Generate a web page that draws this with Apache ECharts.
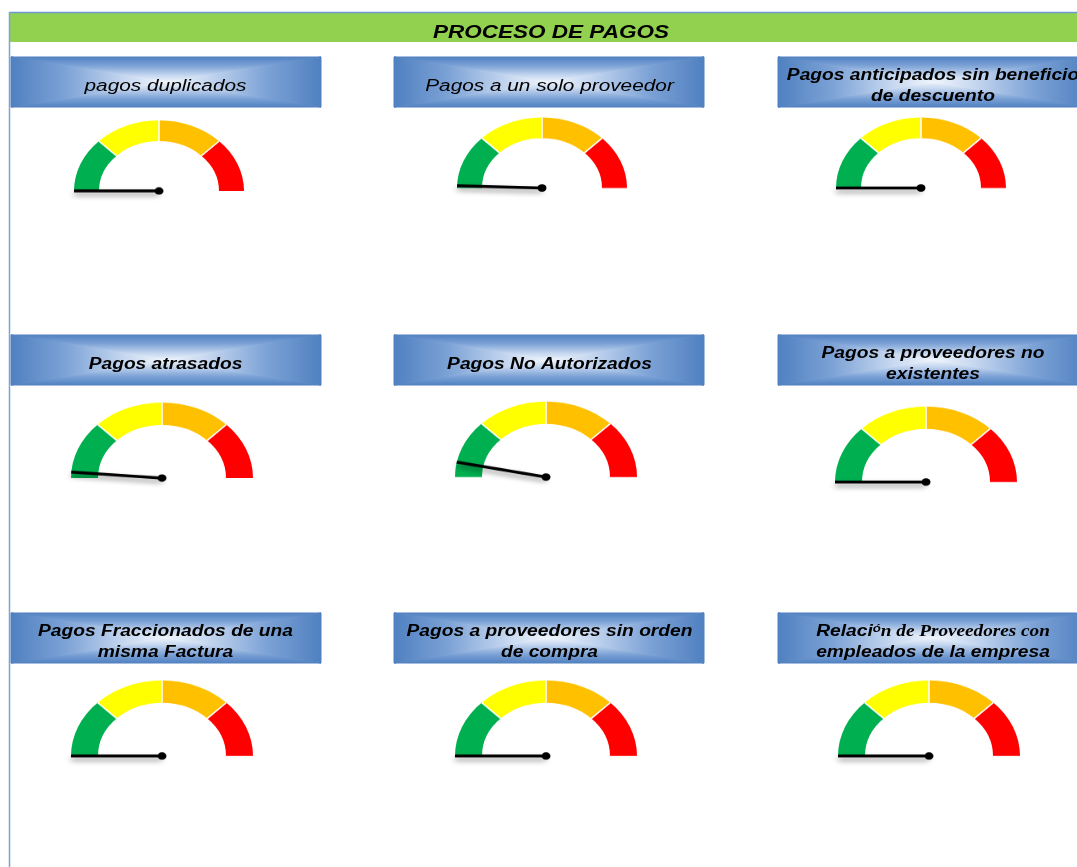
<!DOCTYPE html>
<html>
<head>
<meta charset="utf-8">
<script src="https://cdn.jsdelivr.net/npm/echarts@6/dist/echarts.min.js"></script>
<style>
  html, body { margin: 0; padding: 0; background: #fff; overflow: hidden; }
  #fondo { position: absolute; left: 0; top: 0; width: 1077px; height: 867px; }
  /* gauges are drawn in a taller box and squeezed vertically into flat half-ellipses */
  #medidores { position: absolute; left: 0; top: 0; width: 1077px; height: 1045px;
               transform: scaleY(0.83); transform-origin: 0 0; pointer-events: none; }
</style>
</head>
<body>
<div id="fondo"></div>
<div id="medidores"></div>
<script>
// ---- data ----
const tituloGeneral = 'PROCESO DE PAGOS';
const indicadores = [
  ['pagos duplicados'],
  ['Pagos a un solo proveedor'],
  ['Pagos anticipados sin beneficio', 'de descuento'],
  ['Pagos atrasados'],
  ['Pagos No Autorizados'],
  ['Pagos a proveedores no', 'existentes'],
  ['Pagos Fraccionados de una', 'misma Factura'],
  ['Pagos a proveedores sin orden', 'de compra'],
  ['Relación de Proveedores con', 'empleados de la empresa']
];
const valores = [0, 1, 0, 2.5, 6.3, 0, 0, 0, 0];
const escalaMin = 0;
const escalaMax = 100;
const limitesBandas = [25, 50, 75, 100];

// ---- styling / layout ----
const SY = 0.83;                          // vertical squeeze of the gauge layer
const coloresBandas = ['#00b050', '#ffff00', '#ffc000', '#ff0000'];
const textoNormal = [true, true, false, false, false, false, false, false, false];
const columnasX = [11, 394, 778];
const centrosTexto = [165.5, 549.5, 933];
const filasY = [57, 335, 613];
const cajaW = 310, cajaH = 50;
const medidores = [
  { cx: 159, cy: 191, r: 85, w: 25 }, { cx: 542, cy: 188, r: 85, w: 25 }, { cx: 921, cy: 188, r: 85, w: 25 },
  { cx: 162, cy: 478, r: 91, w: 27 }, { cx: 546, cy: 477, r: 91, w: 27 }, { cx: 926, cy: 482, r: 91, w: 27 },
  { cx: 162, cy: 756, r: 91, w: 27 }, { cx: 546, cy: 756, r: 91, w: 27 }, { cx: 929, cy: 756, r: 91, w: 27 }
];

function grad(x, y, x2, y2) {
  return new echarts.graphic.LinearGradient(x, y, x2, y2, [
    { offset: 0, color: '#4f80c0' }, { offset: 0.35, color: '#7ca2d6' },
    { offset: 0.72, color: '#c4d6ef' }, { offset: 1, color: '#f0f5fc' }
  ]);
}

// rectangular "from centre" gradient box built from four triangles
function caja(x, y, w, h) {
  const cx = x + w / 2, cy = y + h / 2;
  const tri = (pts, d) => ({
    type: 'polygon', shape: { points: pts },
    style: { fill: grad(...d), stroke: grad(...d), lineWidth: 1 }
  });
  return [
    tri([[x, y], [x + w, y], [cx, cy]], [0, 0, 0, 1]),
    tri([[x, y + h], [x + w, y + h], [cx, cy]], [0, 1, 0, 0]),
    tri([[x, y], [x, y + h], [cx, cy]], [0, 0, 1, 0]),
    tri([[x + w, y], [x + w, y + h], [cx, cy]], [1, 0, 0, 0])
  ];
}

function textoCaja(i, x, y) {
  const lineas = indicadores[i];
  const el = { type: 'text', x, y, scaleX: textoNormal[i] ? 1.3 : 1.2, z: 5 };
  const base = { x: 0, y: 0, fill: '#000', align: 'center', verticalAlign: 'middle', lineHeight: 21 };
  const k = lineas[0].indexOf('ó');
  if (k > 0) {
    const l1 = '{a|' + lineas[0].slice(0, k) + '}{b|ó}{c|' + lineas[0].slice(k + 1) + '}';
    const l2 = '{a|' + lineas[1] + '}';
    el.style = Object.assign(base, {
      text: l1 + '\n' + l2,
      rich: {
        a: { fontFamily: 'Liberation Sans', fontStyle: 'italic', fontWeight: 'bold', fontSize: 16, lineHeight: 21, fill: '#000' },
        b: { fontFamily: 'Liberation Sans', fontStyle: 'italic', fontWeight: 'bold', fontSize: 11, lineHeight: 21, fill: '#000', padding: [0, 0, 6, 0] },
        c: { fontFamily: 'Liberation Serif', fontStyle: 'italic', fontWeight: 'bold', fontSize: 16, lineHeight: 21, fill: '#000' }
      }
    });
  } else {
    el.style = Object.assign(base, {
      text: lineas.join('\n'),
      font: (textoNormal[i] ? 'italic normal ' : 'italic bold ') + '16px "Liberation Sans"'
    });
  }
  return el;
}

// ---- background layer: header, frame and title boxes ----
const elementos = [
  { type: 'rect', shape: { x: 10, y: 13, width: 1070, height: 29 }, style: { fill: '#92d050' } },
  { type: 'line', shape: { x1: 9.5, y1: 12.5, x2: 1077, y2: 12.5 }, style: { stroke: '#6f98d3', lineWidth: 1.5 } },
  { type: 'line', shape: { x1: 9.5, y1: 12, x2: 9.5, y2: 867 }, style: { stroke: '#7ea2d8', lineWidth: 1.5 } },
  { type: 'text', x: 551, y: 33, scaleX: 1.25,
    style: { text: tituloGeneral, x: 0, y: 0, fill: '#000', align: 'center', verticalAlign: 'middle',
      font: 'italic bold 18px "Liberation Sans"' } }
];
indicadores.forEach((_, i) => {
  const col = i % 3, fila = Math.floor(i / 3);
  const x = columnasX[col], y = filasY[fila];
  caja(x, y, cajaW, cajaH).forEach(e => elementos.push(e));
  elementos.push(textoCaja(i, centrosTexto[col], y + cajaH / 2 + 4.5));
});

const fondo = echarts.init(document.getElementById('fondo'), null, { renderer: 'canvas' });
fondo.setOption({ animation: false, graphic: { elements: elementos } });

// ---- gauge layer ----
const series = [];
valores.forEach((v, i) => {
  const m = medidores[i];
  const centro = [m.cx, m.cy / SY];
  series.push({
    type: 'gauge', center: centro, radius: m.r,
    startAngle: 180, endAngle: 0, min: escalaMin, max: escalaMax,
    axisLine: { lineStyle: { width: m.w, color: limitesBandas.map((l, k) => [(l - escalaMin) / (escalaMax - escalaMin), coloresBandas[k]]) } },
    splitLine: { show: false }, axisTick: { show: false }, axisLabel: { show: false },
    pointer: { icon: 'rect', length: '100%', width: 3.5,
      itemStyle: { color: '#000', shadowBlur: 6, shadowColor: 'rgba(0,0,0,0.45)', shadowOffsetY: 4 } },
    anchor: { show: true, size: 9, showAbove: true, itemStyle: { color: '#000' } },
    title: { show: false }, detail: { show: false },
    data: [{ value: v, name: indicadores[i].join(' ') }]
  });
  // thin white separators between the colour bands
  series.push({
    type: 'gauge', center: centro, radius: m.r,
    startAngle: 135, endAngle: 45, min: 0, max: 2, splitNumber: 2,
    axisLine: { show: true, lineStyle: { width: m.w, color: [[1, 'rgba(0,0,0,0)']] } },
    splitLine: { show: true, distance: -m.w, length: m.w, lineStyle: { color: '#ffffff', width: 1.6 } },
    axisTick: { show: false }, axisLabel: { show: false },
    pointer: { show: false }, anchor: { show: false },
    title: { show: false }, detail: { show: false },
    data: []
  });
});

const capa = echarts.init(document.getElementById('medidores'), null, { renderer: 'canvas' });
capa.setOption({ animation: false, series });
</script>
</body>
</html>
